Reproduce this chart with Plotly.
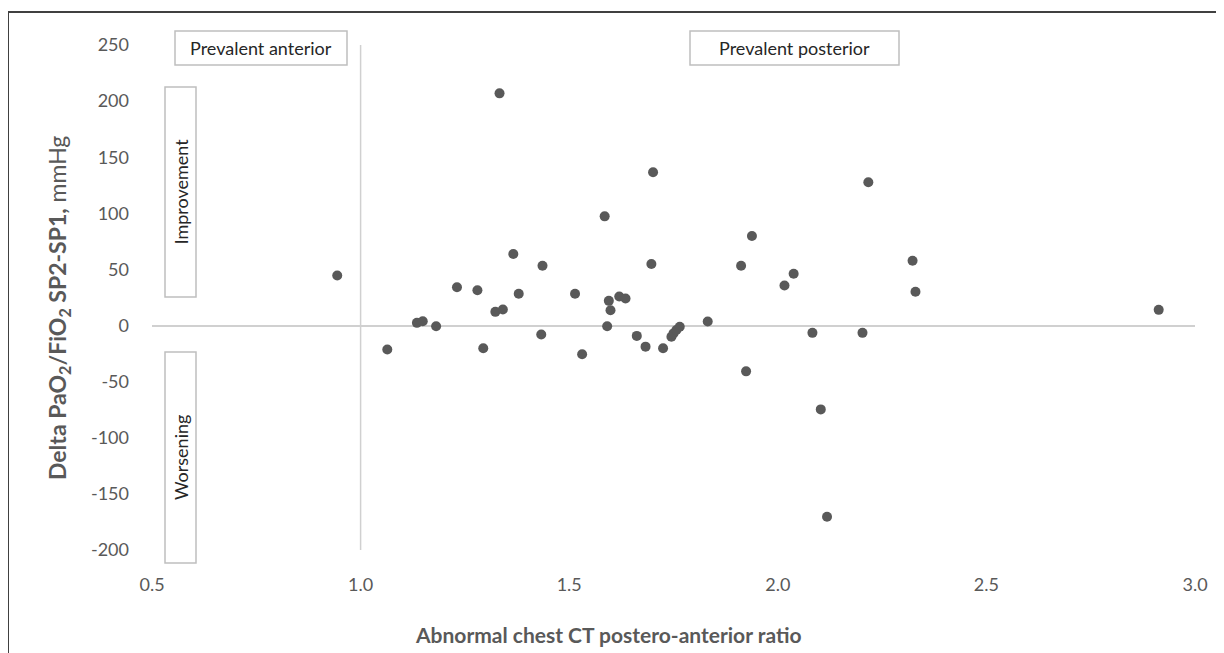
import plotly.graph_objects as go

# Data
pa_ratio = [0.944, 1.064, 1.135, 1.149, 1.181, 1.231, 1.280, 1.294, 1.323, 1.341,
            1.333, 1.366, 1.379, 1.433, 1.436, 1.514, 1.531, 1.585, 1.591, 1.595,
            1.599, 1.620, 1.635, 1.662, 1.683, 1.697, 1.701, 1.725, 1.745, 1.750,
            1.757, 1.765, 1.832, 1.912, 1.938, 2.016, 2.038, 2.083, 2.217, 2.323,
            2.330, 2.913, 2.203, 2.103, 2.118, 1.924]
delta_pf = [44.6, -21.4, 2.4, 3.8, -0.6, 34.2, 31.5, -20.2, 12.2, 14.3,
            206.9, 63.7, 28.3, -8.0, 53.3, 28.3, -25.6, 97.3, -0.6, 22.0,
            13.7, 25.9, 24.1, -9.2, -18.8, 54.8, 136.6, -20.2, -10.0, -7.0,
            -4.0, -1.0, 3.6, 53.3, 79.8, 35.7, 46.1, -6.5, 127.7, 57.7,
            30.1, 14.0, -6.5, -74.7, -170.3, -40.8]

x_ticks = [0.5, 1.0, 1.5, 2.0, 2.5, 3.0]
x_tick_labels = ["0.5", "1.0", "1.5", "2.0", "2.5", "3.0"]
y_ticks = [-200, -150, -100, -50, 0, 50, 100, 150, 200, 250]
y_tick_labels = [str(v) for v in y_ticks]

OFF = 8  # browser default body margin
W, H = 1224 - OFF, 653 - OFF
L, R, T, B = 152, 1195, 45, 550  # plot area in page pixels


def px(x, y):
    return (x - L) / (R - L), (B - y) / (B - T)


FONT = "Lato"
GRAY = "#595959"

fig = go.Figure()
fig.add_trace(go.Scatter(
    x=pa_ratio, y=delta_pf, mode="markers",
    marker=dict(size=10, color="#595959"),
    showlegend=False, hoverinfo="x+y",
))

shapes = []
annotations = []

# vertical axis crossing line at x=1.0
shapes.append(dict(type="line", xref="x", yref="y", x0=1.0, x1=1.0, y0=-200, y1=250,
                   line=dict(color="#d0d0d0", width=1.5), layer="below"))

# boxes
boxes = [
    ("Prevalent anterior", 175, 31, 347, 65, 0),
    ("Prevalent posterior", 690, 31, 899, 65, 0),
    ("Improvement", 165, 87, 196, 297, -90),
    ("Worsening", 165, 352, 196, 563, -90),
]
for text, x0, y0, x1, y1, ang in boxes:
    a0, b0 = px(x0, y0)
    a1, b1 = px(x1, y1)
    shapes.append(dict(type="rect", xref="paper", yref="paper", x0=a0, x1=a1, y0=b1, y1=b0,
                       line=dict(color="#bfbfbf", width=1.5), fillcolor="rgba(0,0,0,0)"))
    cx, cy = px((x0 + x1) / 2, (y0 + y1) / 2)
    annotations.append(dict(text=text, xref="paper", yref="paper", x=cx, y=cy,
                            showarrow=False, textangle=ang,
                            font=dict(family=FONT, size=18, color="#262626"),
                            xanchor="center", yanchor="middle"))

# outer frame
fa, fb = px(8, 12)
fc, fd = px(1240, 670)
shapes.append(dict(type="rect", xref="paper", yref="paper", x0=fa, x1=fc, y0=fd, y1=fb,
                   line=dict(color="#404040", width=2), fillcolor="rgba(0,0,0,0)"))

# axis titles
tx, ty = px(608, 634)
annotations.append(dict(text="<b>Abnormal chest CT postero-anterior ratio</b>",
                        xref="paper", yref="paper", x=tx, y=ty, showarrow=False,
                        font=dict(family=FONT, size=21, color=GRAY),
                        xanchor="center", yanchor="middle"))
yx, yy = px(58, 308)
annotations.append(dict(text="<b>Delta PaO<sub>2</sub>/FiO<sub>2</sub> SP2-SP1,</b> mmHg",
                        xref="paper", yref="paper", x=yx, y=yy, showarrow=False,
                        textangle=-90,
                        font=dict(family=FONT, size=23, color=GRAY),
                        xanchor="center", yanchor="middle"))

fig.update_layout(
    width=W, height=H,
    margin=dict(l=L - OFF, r=W + OFF - R, t=T - OFF, b=H + OFF - B),
    paper_bgcolor="white", plot_bgcolor="white",
    shapes=shapes, annotations=annotations,
    xaxis=dict(range=[0.5, 3.0], tickvals=x_ticks, ticktext=x_tick_labels,
               showgrid=False, zeroline=False, showline=False, ticks="",
               ticklabelstandoff=22,
               tickfont=dict(family=FONT, size=18, color=GRAY)),
    yaxis=dict(range=[-200, 250], tickvals=y_ticks, ticktext=y_tick_labels,
               showgrid=False, zeroline=True, zerolinecolor="#d0d0d0", zerolinewidth=1.5,
               showline=False, ticks="", ticklabelstandoff=22,
               tickfont=dict(family=FONT, size=18, color=GRAY)),
)

fig.write_html("out.html")
